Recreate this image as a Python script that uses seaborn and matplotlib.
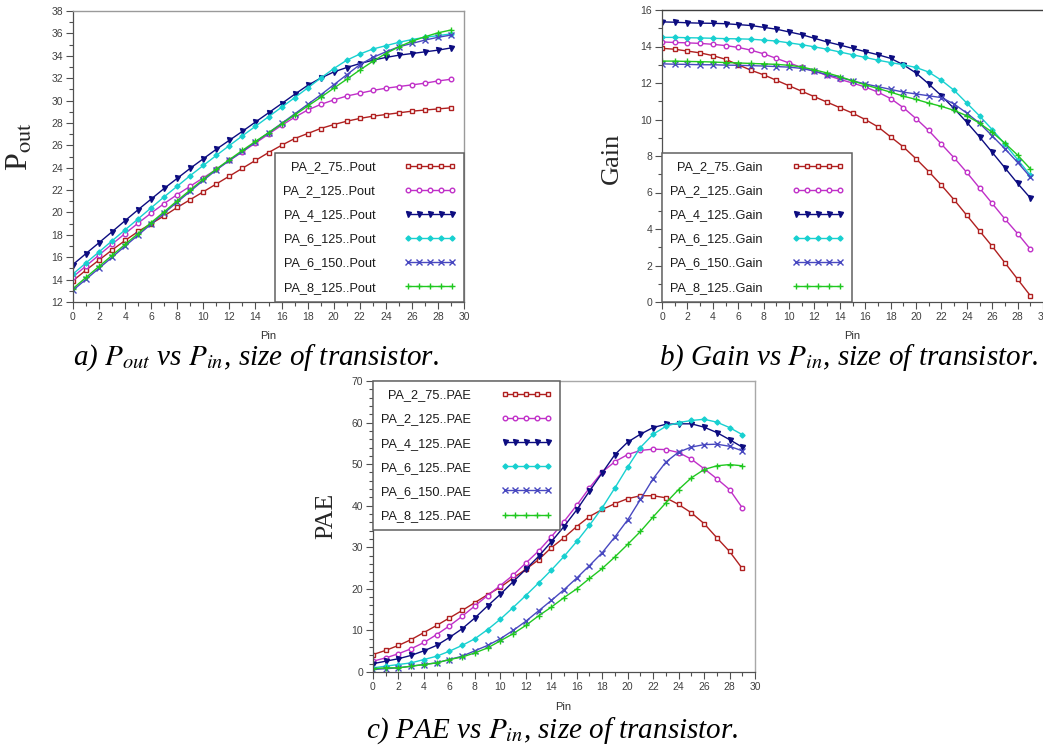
import matplotlib
matplotlib.use("Agg")
import matplotlib.pyplot as plt
import seaborn as sns
import pandas as pd
from matplotlib.ticker import MultipleLocator

sns.set_style("white")
plt.rcParams["font.family"] = ["Liberation Sans", "DejaVu Sans"]
plt.rcParams["mathtext.fontset"] = "stix"

# ---------------- data ----------------
pin = list(range(30))
series_names = ["PA_2_75", "PA_2_125", "PA_4_125", "PA_6_125", "PA_6_150", "PA_8_125"]

pout_2_75 = [13.9, 14.85, 15.75, 16.65, 17.5, 18.3, 19.0, 19.7, 20.45, 21.15, 21.85, 22.55, 23.25, 23.95, 24.65,
             25.35, 26.0, 26.6, 27.05, 27.5, 27.85, 28.15, 28.4, 28.6, 28.75, 28.9, 29.05, 29.15, 29.25, 29.35]
pout_2_125 = [14.25, 15.22, 16.2, 17.17, 18.12, 19.05, 19.95, 20.8, 21.6, 22.35, 23.1, 23.85, 24.65, 25.42, 26.2,
              27.0, 27.78, 28.5, 29.15, 29.65, 30.05, 30.4, 30.65, 30.9, 31.1, 31.25, 31.4, 31.55, 31.75, 31.9]
pout_4_125 = [15.35, 16.33, 17.3, 18.28, 19.27, 20.25, 21.2, 22.15, 23.05, 23.95, 24.8, 25.65, 26.45, 27.25, 28.08,
              28.9, 29.72, 30.55, 31.35, 32.0, 32.55, 32.95, 33.3, 33.6, 33.85, 34.05, 34.2, 34.35, 34.5, 34.7]
pout_6_125 = [14.5, 15.5, 16.48, 17.47, 18.45, 19.43, 20.42, 21.4, 22.35, 23.3, 24.2, 25.1, 25.98, 26.85, 27.7,
              28.55, 29.4, 30.25, 31.12, 32.0, 32.85, 33.6, 34.15, 34.6, 34.9, 35.2, 35.45, 35.65, 35.8, 35.95]
pout_6_150 = [13.05, 14.03, 15.02, 16.0, 17.0, 17.98, 18.97, 19.95, 20.93, 21.9, 22.87, 23.8, 24.65, 25.45, 26.3,
              27.12, 27.95, 28.8, 29.65, 30.5, 31.4, 32.3, 33.2, 33.85, 34.35, 34.8, 35.1, 35.4, 35.65, 35.85]
pout_8_125 = [13.2, 14.2, 15.18, 16.17, 17.15, 18.12, 19.1, 20.07, 21.05, 22.02, 22.97, 23.88, 24.72, 25.55, 26.35,
              27.12, 27.9, 28.7, 29.5, 30.28, 31.1, 31.9, 32.72, 33.5, 34.2, 34.8, 35.3, 35.7, 36.05, 36.3]

gain_2_75 = [13.9, 13.85, 13.75, 13.65, 13.5, 13.3, 13.0, 12.7, 12.45, 12.15, 11.85, 11.55, 11.25, 10.95, 10.65,
             10.35, 10.0, 9.6, 9.05, 8.5, 7.85, 7.15, 6.4, 5.6, 4.75, 3.9, 3.05, 2.15, 1.25, 0.35]
gain_2_125 = [14.25, 14.22, 14.2, 14.17, 14.12, 14.05, 13.95, 13.8, 13.6, 13.35, 13.1, 12.85, 12.65, 12.42, 12.2,
              12.0, 11.78, 11.5, 11.15, 10.65, 10.05, 9.4, 8.65, 7.9, 7.1, 6.25, 5.4, 4.55, 3.75, 2.9]
gain_4_125 = [15.35, 15.33, 15.3, 15.28, 15.27, 15.25, 15.2, 15.15, 15.05, 14.95, 14.8, 14.65, 14.45, 14.25, 14.08,
              13.9, 13.72, 13.55, 13.35, 13.0, 12.55, 11.95, 11.3, 10.6, 9.85, 9.05, 8.2, 7.35, 6.5, 5.7]
gain_6_125 = [14.5, 14.5, 14.48, 14.47, 14.45, 14.43, 14.42, 14.4, 14.35, 14.3, 14.2, 14.1, 13.98, 13.85, 13.7,
              13.55, 13.4, 13.25, 13.12, 13.0, 12.85, 12.6, 12.15, 11.6, 10.9, 10.2, 9.45, 8.65, 7.8, 6.95]
gain_6_150 = [13.05, 13.03, 13.02, 13.0, 13.0, 12.98, 12.97, 12.95, 12.93, 12.9, 12.87, 12.8, 12.65, 12.45, 12.3,
              12.12, 11.95, 11.8, 11.65, 11.5, 11.4, 11.3, 11.2, 10.85, 10.35, 9.8, 9.1, 8.4, 7.65, 6.85]
gain_8_125 = [13.2, 13.2, 13.18, 13.17, 13.15, 13.12, 13.1, 13.07, 13.05, 13.02, 12.97, 12.88, 12.72, 12.55, 12.35,
              12.12, 11.9, 11.7, 11.5, 11.28, 11.1, 10.9, 10.72, 10.5, 10.2, 9.8, 9.3, 8.7, 8.05, 7.3]

pae_2_75 = [4.2, 5.2, 6.4, 7.8, 9.5, 11.2, 13.0, 14.8, 16.7, 18.6, 20.4, 22.6, 24.7, 27.0, 29.9,
            32.3, 35.0, 37.4, 39.1, 40.5, 41.7, 42.4, 42.4, 41.9, 40.3, 38.3, 35.7, 32.3, 29.0, 24.9]
pae_2_125 = [2.6, 3.4, 4.4, 5.6, 7.1, 9.0, 11.1, 13.4, 15.9, 18.4, 20.8, 23.3, 26.2, 29.1, 32.5,
             36.2, 40.1, 44.3, 48.1, 50.6, 52.3, 53.3, 53.6, 53.5, 52.8, 51.2, 48.9, 46.5, 43.9, 39.5]
pae_4_125 = [2.0, 2.6, 3.2, 4.0, 5.1, 6.4, 8.3, 10.4, 13.0, 15.9, 18.7, 21.7, 24.7, 27.8, 31.3,
             35.0, 39.0, 43.5, 47.9, 52.3, 55.3, 57.2, 58.8, 59.6, 59.7, 59.7, 58.9, 57.6, 55.9, 54.1]
pae_6_125 = [1.0, 1.4, 1.8, 2.2, 3.0, 3.8, 5.0, 6.4, 8.0, 10.2, 12.7, 15.5, 18.4, 21.4, 24.5,
             27.8, 31.4, 35.3, 39.5, 44.3, 49.3, 54.0, 57.2, 59.1, 60.0, 60.5, 60.8, 60.1, 58.8, 57.1]
pae_6_150 = [0.6, 0.8, 1.0, 1.4, 1.8, 2.2, 3.0, 3.8, 5.1, 6.4, 8.0, 10.0, 12.2, 14.7, 17.2,
             19.8, 22.6, 25.6, 28.7, 32.5, 36.6, 41.5, 46.5, 50.5, 52.9, 54.1, 54.7, 54.8, 54.3, 53.2]
pae_8_125 = [0.8, 1.0, 1.0, 1.4, 1.8, 2.2, 3.0, 3.6, 4.6, 5.8, 7.5, 9.2, 11.2, 13.5, 15.6,
             17.9, 20.0, 22.5, 24.9, 27.7, 30.7, 33.8, 37.3, 40.7, 43.9, 46.7, 48.7, 49.6, 49.9, 49.6]

pout_data = [pout_2_75, pout_2_125, pout_4_125, pout_6_125, pout_6_150, pout_8_125]
gain_data = [gain_2_75, gain_2_125, gain_4_125, gain_6_125, gain_6_150, gain_8_125]
pae_data = [pae_2_75, pae_2_125, pae_4_125, pae_6_125, pae_6_150, pae_8_125]

# ---------------- styles ----------------
colors = ["#b02020", "#c030c8", "#0c0c80", "#18d0d0", "#4848c0", "#20c820"]
markers = ["s", "o", "v", "D", "x", "+"]
msizes = [3.0, 3.3, 3.6, 2.6, 3.8, 4.8]
mfaces = ["white", "white", None, None, None, None]

W, H = 1043, 746
fig = plt.figure(figsize=(W / 100, H / 100), dpi=100)
fig.patch.set_facecolor("white")


def add_ax(x0, x1, ytop, ybot):
    return fig.add_axes([x0 / W, 1 - ybot / H, (x1 - x0) / W, (ybot - ytop) / H])


def draw(ax, data, suffix, ylim, ymaj, ymin, legloc, top_col="#9a9a9a", right_col="#9a9a9a"):
    handles = []
    for i, name in enumerate(series_names):
        df = pd.DataFrame({"Pin": pin, "val": data[i]})
        kw = dict(marker=markers[i], markersize=msizes[i], markeredgecolor=colors[i],
                  markeredgewidth=1.0, linewidth=1.0)
        kw["markerfacecolor"] = mfaces[i] if mfaces[i] is not None else colors[i]
        sns.lineplot(data=df, x="Pin", y="val", ax=ax, color=colors[i], legend=False, **kw)
        handles.append(ax.lines[-1])
    ax.set_xlim(0, 30)
    ax.set_ylim(*ylim)
    ax.xaxis.set_major_locator(MultipleLocator(2))
    ax.xaxis.set_minor_locator(MultipleLocator(1))
    ax.yaxis.set_major_locator(MultipleLocator(ymaj))
    ax.yaxis.set_minor_locator(MultipleLocator(ymin))
    ax.tick_params(which="both", direction="out", colors="#505050", labelcolor="#404040",
                   labelsize=7.5, width=0.8, bottom=True, left=True, top=False, right=False, pad=2)
    ax.tick_params(which="major", length=5)
    ax.tick_params(which="minor", length=3)
    ax.set_xlabel("")
    ax.set_ylabel("")
    for s in ["left", "bottom"]:
        ax.spines[s].set_color("#505050")
        ax.spines[s].set_linewidth(0.9)
    ax.spines["top"].set_color(top_col)
    ax.spines["right"].set_color(right_col)
    for s in ["top", "right"]:
        ax.spines[s].set_linewidth(1.0)
    labels = [n + ".." + suffix for n in series_names]
    leg = ax.legend(handles, labels, loc=legloc, borderaxespad=0, markerfirst=False, numpoints=5,
                    handlelength=4.0, handletextpad=2.3, labelspacing=0.95, borderpad=0.65,
                    fancybox=False, framealpha=1, edgecolor="#606060", fontsize=9.2)
    leg.get_frame().set_linewidth(1.1)
    for t in leg.get_texts():
        t.set_color("#1a1a1a")
    return ax


# panel a
ax_a = add_ax(73, 464, 11, 302)
draw(ax_a, pout_data, "Pout", (12, 38), 2, 1, "lower right")
# panel b
ax_b = add_ax(662, 1043, 10, 302)
draw(ax_b, gain_data, "Gain", (0, 16), 2, 1, "lower left", top_col="#404040", right_col="white")
ax_b.spines["right"].set_visible(False)
# panel c
ax_c = add_ax(373, 755, 381, 672)
draw(ax_c, pae_data, "PAE", (0, 70), 10, 2, "upper left", top_col="#a8a8a8", right_col="#a8a8a8")

# axis labels
serif = ["Liberation Serif", "DejaVu Serif"]
fig.text(20 / W, 1 - 147 / H, r"P$_{\mathrm{out}}$", rotation=90, ha="center", va="center",
         fontsize=23, family=serif)
fig.text(612 / W, 1 - 158 / H, "Gain", rotation=90, ha="center", va="center", fontsize=19, family=serif)
fig.text(326 / W, 1 - 516 / H, "PAE", rotation=90, ha="center", va="center", fontsize=18.5, family=serif)

for (x, y) in [(268, 336), (852, 336), (563, 707)]:
    fig.text(x / W, 1 - y / H, "Pin", ha="center", va="center", fontsize=8, color="#303030")

# captions
cap_kw = dict(ha="center", va="center", fontsize=21, family=serif, style="italic", color="black")
fig.text(256 / W, 1 - 358 / H, r"a) $P_{out}$ vs $P_{in}$, size of transistor.", **cap_kw)
fig.text(848 / W, 1 - 358 / H, r"b) Gain vs $P_{in}$, size of transistor.", **cap_kw)
fig.text(552 / W, 1 - 731 / H, r"c) PAE vs $P_{in}$, size of transistor.", **cap_kw)

fig.savefig("out.png", dpi=100, facecolor="white")
